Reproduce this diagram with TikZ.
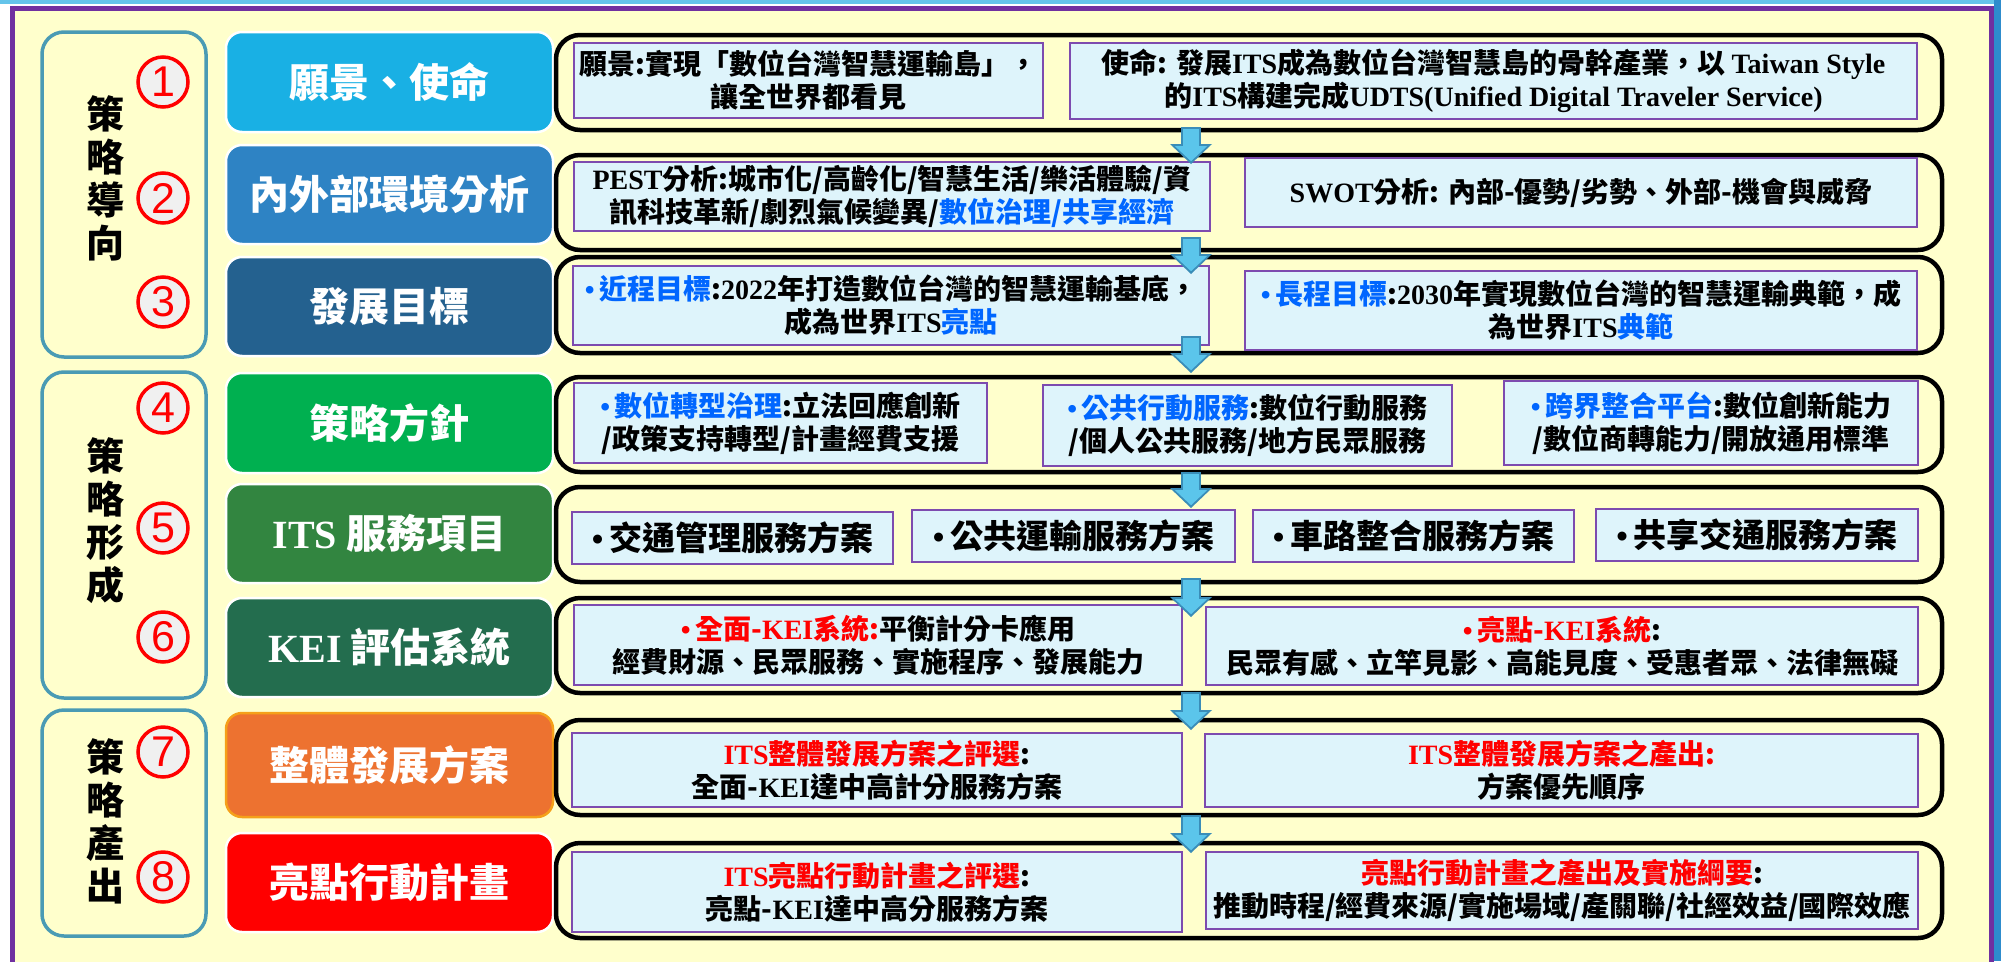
\documentclass[tikz,border=0pt]{standalone}
\usepackage{fontspec}
\setmainfont{Noto Sans CJK TC}
\newfontfamily\latfont{Liberation Serif}
\newfontfamily\numfont{Liberation Sans}
\usetikzlibrary{arrows.meta,calc}

\definecolor{bgyellow}{RGB}{255,255,204}
\definecolor{framepurple}{RGB}{112,48,160}
\definecolor{boxpurple}{RGB}{125,75,175}
\definecolor{boxcyan}{RGB}{222,244,251}
\definecolor{grpteal}{RGB}{74,155,180}
\definecolor{hlblue}{RGB}{0,102,255}
\definecolor{arrowfill}{RGB}{91,197,235}
\definecolor{arrowedge}{RGB}{58,141,184}
\definecolor{topblue}{RGB}{100,196,234}
\definecolor{sideblue}{RGB}{46,140,205}
\definecolor{tvision}{RGB}{25,176,228}
\definecolor{tenv}{RGB}{46,131,196}
\definecolor{tgoal}{RGB}{36,97,143}
\definecolor{tpolicy}{RGB}{0,176,80}
\definecolor{tits}{RGB}{50,133,64}
\definecolor{tkei}{RGB}{35,109,78}
\definecolor{tplan}{RGB}{237,114,48}
\definecolor{tplanedge}{RGB}{245,160,26}
\definecolor{taction}{RGB}{255,0,0}

\newcommand\en[1]{{\latfont #1}}
\newcommand\hl[1]{\textcolor{hlblue}{#1}}
\newcommand\rd[1]{\textcolor{red}{#1}}
\newcommand\bul{{\latfont\textbullet}\,}

\begin{document}
\begin{tikzpicture}[x=1pt,y=-1pt,
  every node/.style={inner sep=0pt,outer sep=0pt},
  grp/.style={draw=grpteal,line width=3.5pt,rounded corners=22pt,fill=bgyellow,minimum width=164pt},
  grplabel/.style={align=center,font=\bfseries\fontsize{38}{43}\selectfont},
  num/.style={circle,draw=red,line width=3.5pt,fill=black!6,minimum size=50pt,text=red,font=\numfont\fontsize{43}{43}\selectfont},
  title/.style={rounded corners=16pt,draw=white,line width=2.5pt,minimum width=327pt,text=white,font=\bfseries\fontsize{40}{44}\selectfont},
  row/.style={draw=black,line width=4.5pt,rounded corners=24pt,minimum width=1386pt,minimum height=95pt},
  item/.style={draw=boxpurple,line width=2pt,fill=boxcyan,align=center,font=\bfseries\fontsize{28}{33}\selectfont},
  bigitem/.style={item,font=\bfseries\fontsize{33}{36}\selectfont,minimum height=52pt},
  flowarrow/.style={draw=arrowedge,line width=20pt,-{Triangle[width=42pt,length=20pt,line width=0pt]},
    postaction={draw=arrowfill,line width=16pt,-{Triangle[width=32pt,length=15pt,line width=0pt]},shorten >=2.8pt,shorten <=2pt}}]
\useasboundingbox (0,0) rectangle (2001,961);
% page background and frame
\fill[white] (0,0) rectangle (2001,961);
\fill[topblue] (0,0) rectangle (2001,4);
\fill[sideblue] (1994,0) rectangle (2001,961);
\draw[framepurple,line width=5pt,fill=bgyellow] (12,8.5) rectangle (1991,990);

% stage groups
\node[grp,minimum height=325pt] (g1) at (124,194.5) {};
\node[grp,minimum height=326pt] (g2) at (124,535) {};
\node[grp,minimum height=226pt] (g3) at (124,823) {};
\node[grplabel] (l1) at (105,178) {策\\略\\導\\向};
\node[grplabel] (l2) at (105,521) {策\\略\\形\\成};
\node[grplabel] (l3) at (105,821) {策\\略\\產\\出};
\foreach \i/\y in {1/82,2/198,3/302,4/408,5/528,6/637,7/752,8/877}
  \node[num] (n\i) at (163,\y) {\i};

% step titles
\node[title,fill=tvision,minimum height=100pt] (t1) at (389.5,82) {願景、使命};
\node[title,fill=tenv,minimum height=99pt] (t2) at (389.5,194.5) {內外部環境分析};
\node[title,fill=tgoal,minimum height=99pt] (t3) at (389.5,306.5) {發展目標};
\node[title,fill=tpolicy,minimum height=100pt] (t4) at (389.5,423) {策略方針};
\node[title,fill=tits,minimum height=99pt] (t5) at (389.5,533.5) {\en{ITS} 服務項目};
\node[title,fill=tkei,minimum height=99pt] (t6) at (389.5,647.5) {\en{KEI} 評估系統};
\node[title,fill=tplan,draw=tplanedge,minimum height=104pt] (t7) at (389.5,765) {整體發展方案};
\node[title,fill=taction,minimum height=99pt] (t8) at (389.5,882.5) {亮點行動計畫};

% row containers
\node[row] (c1) at (1249,82.5) {};
\node[row] (c2) at (1249,202.5) {};
\node[row,minimum height=96pt] (c3) at (1249,305) {};
\node[row] (c4) at (1249,424.5) {};
\node[row] (c5) at (1249,534.5) {};
\node[row] (c6) at (1249,645.5) {};
\node[row] (c7) at (1249,767.5) {};
\node[row] (c8) at (1249,890.5) {};

% row 1
\node[item,minimum width=469pt,minimum height=75pt] (v1) at (808.5,80.5)
  {願景:實現「數位台灣智慧運輸島」，\\讓全世界都看見};
\node[item,minimum width=847pt,minimum height=76pt] (v2) at (1493.5,81)
  {使命: 發展\en{ITS}成為數位台灣智慧島的骨幹產業，以 \en{Taiwan Style}\\的\en{ITS}構建完成\en{UDTS(Unified Digital Traveler Service)}};
% row 2
\node[item,minimum width=636pt,minimum height=69pt] (e1) at (892,196.5)
  {\en{PEST}分析:城市化/高齡化/智慧生活/樂活體驗/資\\訊科技革新/劇烈氣候變異/\hl{數位治理/共享經濟}};
\node[item,minimum width=672pt,minimum height=69pt] (e2) at (1581,192.5)
  {\en{SWOT}分析: 內部-優勢/劣勢、外部-機會與威脅};
% row 3
\node[item,minimum width=636pt,minimum height=79pt] (o1) at (891,305.5)
  {\hl{\bul 近程目標}:\en{2022}年打造數位台灣的智慧運輸基底，\\成為世界\en{ITS}\hl{亮點}};
\node[item,minimum width=672pt,minimum height=79pt] (o2) at (1581,310.5)
  {\hl{\bul 長程目標}:\en{2030}年實現數位台灣的智慧運輸典範，成\\為世界\en{ITS}\hl{典範}};
% row 4
\node[item,minimum width=413pt,minimum height=80pt] (p1) at (780.5,423)
  {\hl{\bul 數位轉型治理}:立法回應創新\\/政策支持轉型/計畫經費支援};
\node[item,minimum width=409pt,minimum height=81pt] (p2) at (1247.5,425.5)
  {\hl{\bul 公共行動服務}:數位行動服務\\/個人公共服務/地方民眾服務};
\node[item,minimum width=414pt,minimum height=84pt] (p3) at (1711,423)
  {\hl{\bul 跨界整合平台}:數位創新能力\\/數位商轉能力/開放通用標準};
% row 5
\node[bigitem,minimum width=321pt] (s1) at (732.5,538) {\bul 交通管理服務方案};
\node[bigitem,minimum width=323pt] (s2) at (1073.5,536) {\bul 公共運輸服務方案};
\node[bigitem,minimum width=321pt] (s3) at (1413.5,536) {\bul 車路整合服務方案};
\node[bigitem,minimum width=322pt] (s4) at (1757,534.5) {\bul 共享交通服務方案};
% row 6
\node[item,minimum width=608pt,minimum height=80pt] (k1) at (878,645)
  {\rd{\bul 全面-\en{KEI}系統:}平衡計分卡應用\\經費財源、民眾服務、實施程序、發展能力};
\node[item,minimum width=712pt,minimum height=78pt] (k2) at (1562,646)
  {\rd{\bul 亮點-\en{KEI}系統}:\\民眾有感、立竿見影、高能見度、受惠者眾、法律無礙};
% row 7
\node[item,minimum width=610pt,minimum height=74pt] (d1) at (877,770)
  {\rd{\en{ITS}整體發展方案之評選}:\\全面-\en{KEI}達中高計分服務方案};
\node[item,minimum width=713pt,minimum height=73pt] (d2) at (1561.5,770.5)
  {\rd{\en{ITS}整體發展方案之產出:}\\方案優先順序};
% row 8
\node[item,minimum width=610pt,minimum height=80pt] (a1) at (877,892)
  {\rd{\en{ITS}亮點行動計畫之評選}:\\亮點-\en{KEI}達中高分服務方案};
\node[item,minimum width=712pt,minimum height=77pt] (a2) at (1562,890.5)
  {\rd{亮點行動計畫之產出及實施綱要}:\\推動時程/經費來源/實施場域/產關聯/社經效益/國際效應};

% flow arrows between rows
\coordinate (ax) at (1191,0);
\foreach \a/\b/\s/\e in {c1/c2/-3/9,c2/c3/-13/17,c3/c4/-17/-4,c4/c5/0/21,c5/c6/-4/19,c6/c7/-1/10,c7/c8/0/10}
  \draw[flowarrow] ($(\a.south -| ax)+(0,\s)$) -- ($(\b.north -| ax)+(0,\e)$);
\end{tikzpicture}
\end{document}
